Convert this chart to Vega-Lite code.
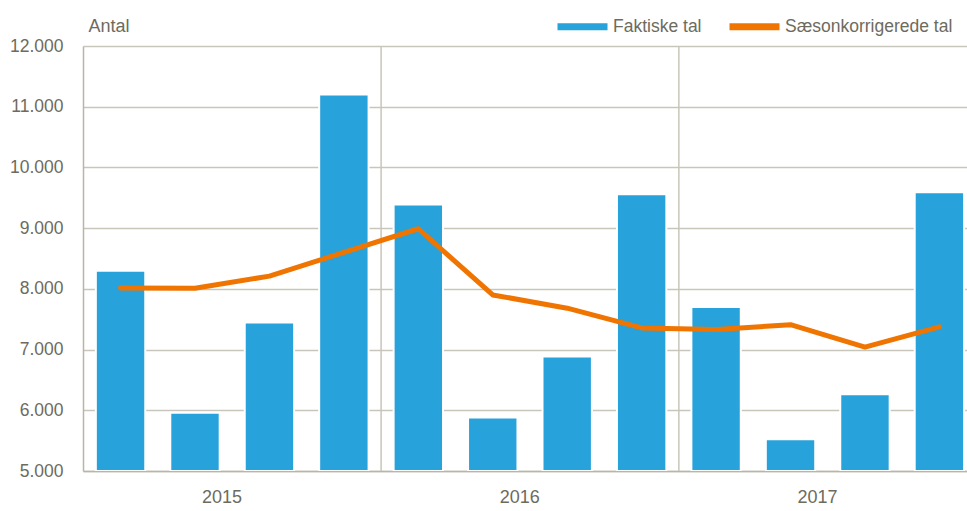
{
  "$schema": "https://vega.github.io/schema/vega-lite/v6.json",
  "width": 884,
  "height": 425,
  "autosize": {"type": "none"},
  "padding": {"left": 83, "top": 46, "right": 0, "bottom": 40},
  "background": "white",
  "config": {
    "view": {"stroke": null},
    "font": "Liberation Sans",
    "axis": {"labelColor": "#6d6b5e", "labelFont": "Liberation Sans", "titleFont": "Liberation Sans"}
  },
  "data": {
    "values": [
      {"q": "2015 K1", "faktisk": 8300, "saeson": 8015},
      {"q": "2015 K2", "faktisk": 5960, "saeson": 8010},
      {"q": "2015 K3", "faktisk": 7445, "saeson": 8210},
      {"q": "2015 K4", "faktisk": 11200, "saeson": 8600},
      {"q": "2016 K1", "faktisk": 9390, "saeson": 8990},
      {"q": "2016 K2", "faktisk": 5880, "saeson": 7900},
      {"q": "2016 K3", "faktisk": 6885, "saeson": 7682},
      {"q": "2016 K4", "faktisk": 9560, "saeson": 7357},
      {"q": "2017 K1", "faktisk": 7703, "saeson": 7330},
      {"q": "2017 K2", "faktisk": 5522, "saeson": 7410},
      {"q": "2017 K3", "faktisk": 6264, "saeson": 7040},
      {"q": "2017 K4", "faktisk": 9593, "saeson": 7375}
    ]
  },
  "layer": [
    {
      "mark": {"type": "bar", "stroke": "white", "strokeWidth": 2, "clip": true},
      "encoding": {
        "x": {
          "field": "q", "type": "ordinal", "sort": null,
          "scale": {"paddingInner": 0.3364, "paddingOuter": 0.1058, "align": 0.816},
          "axis": {
            "title": null, "ticks": false, "domainColor": "#b9b5a8", "domainWidth": 1.5,
            "labelExpr": "split(datum.value, ' ')[1] == 'K2' ? split(datum.value, ' ')[0] : ''",
            "labelOffset": 27, "labelPadding": 17, "labelFontSize": 18, "labelAngle": 0,
            "labelBaseline": "top", "labelAlign": "center", "grid": false
          }
        },
        "y": {
          "field": "faktisk", "type": "quantitative",
          "scale": {"domain": [5000, 12000], "zero": false, "nice": false},
          "axis": {
            "title": "Antal", "titleAngle": 0, "titleX": 5, "titleY": -15,
            "titleAlign": "left", "titleBaseline": "alphabetic", "titleFontSize": 18,
            "titleFontWeight": "normal", "titleColor": "#6d6b5e",
            "values": [5000, 6000, 7000, 8000, 9000, 10000, 11000, 12000],
            "labelExpr": "replace(format(datum.value, ',d'), ',', '.')",
            "labelFontSize": 17.5, "labelPadding": 20, "ticks": false,
            "domainColor": "#b9b5a8", "domainWidth": 1.5,
            "grid": true, "gridColor": "#c8c5ba", "gridWidth": 1.5
          }
        },
        "y2": {"datum": 5000},
        "color": {
          "datum": "Faktiske tal", "type": "nominal",
          "scale": {"domain": ["Faktiske tal", "Sæsonkorrigerede tal"], "range": ["#27a2db", "#f07400"]},
          "legend": {
            "title": null, "orient": "none", "direction": "horizontal",
            "legendX": 471, "legendY": -48,
            "symbolType": "stroke", "symbolSize": 2500, "symbolStrokeWidth": 7,
            "labelFontSize": 17.5, "labelColor": "#6d6b5e", "labelFont": "Liberation Sans",
            "labelLimit": 400, "labelOffset": 2, "columnPadding": 13,
            "encode": {
              "symbols": {
                "update": {
                  "strokeWidth": {"signal": "datum.value == 'Faktiske tal' ? 8 : 5"},
                  "strokeCap": {"signal": "datum.value == 'Faktiske tal' ? 'butt' : 'round'"}
                }
              }
            }
          }
        }
      }
    },
    {
      "data": {"values": [{"q": "2015 K4"}, {"q": "2016 K4"}]},
      "mark": {"type": "rule", "color": "#c8c5ba", "strokeWidth": 1.5},
      "encoding": {
        "x": {"field": "q", "type": "ordinal", "sort": null, "bandPosition": 1.2535}
      }
    },
    {
      "mark": {"type": "line", "strokeWidth": 5, "strokeCap": "round", "strokeJoin": "round"},
      "encoding": {
        "x": {"field": "q", "type": "ordinal", "sort": null},
        "y": {"field": "saeson", "type": "quantitative"},
        "color": {"datum": "Sæsonkorrigerede tal", "type": "nominal"}
      }
    }
  ]
}
